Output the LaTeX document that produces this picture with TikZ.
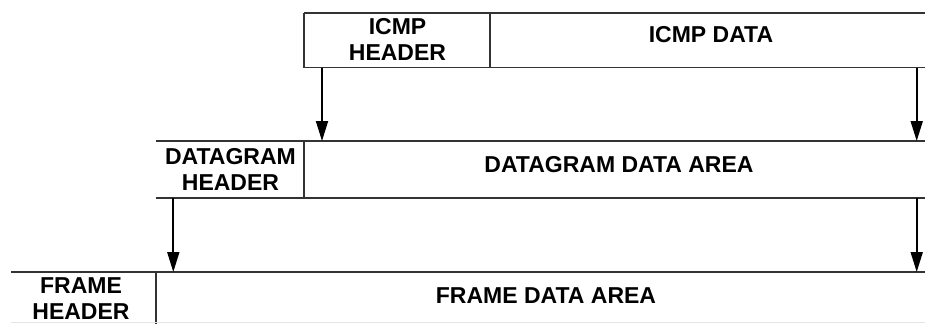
\documentclass[tikz,border=0pt]{standalone}
\usepackage{fontspec}
\setmainfont{Liberation Sans}
\usetikzlibrary{arrows.meta}
\begin{document}
\begin{tikzpicture}[x=1pt,y=-1pt,
  rule/.style={line width=1.8pt, draw=black!80},
  celltext/.style={font=\bfseries\fontsize{23}{26}\selectfont, align=center, inner sep=0pt},
  flow/.style={line width=1.8pt, draw=black, -{Triangle[length=20pt,width=12pt]}},
]
\useasboundingbox (0,0) rectangle (925,324);

% ICMP message row
\draw[rule] (304,12.7) -- (925,12.7);
\draw[rule] (304,67.5) -- (925,67.5);
\draw[rule] (304,12.7) -- (304,67.5);
\draw[rule] (490,12.7) -- (490,67.5);
\node[celltext] (icmphdr) at (397.5,39.7) {ICMP\\HEADER};
\node[celltext] (icmpdata) at (711,35) {ICMP DATA};

% IP datagram row
\draw[rule] (156,141) -- (925,141);
\draw[rule] (156,198) -- (925,198);
\draw[rule] (304,141) -- (304,198);
\node[celltext] (dghdr) at (230.5,169.7) {DATAGRAM\\HEADER};
\node[celltext] (dgdata) at (619,165) {DATAGRAM DATA AREA};

% frame row
\draw[rule] (11,272) -- (925,272);
\draw[rule] (156,272) -- (156,324);
\draw[gray!20, line width=0.8pt] (11,322.8) -- (925,322.8);
\node[celltext] (frhdr) at (81,298.7) {FRAME\\HEADER};
\node[celltext] (frdata) at (546,295.3) {FRAME DATA AREA};

% encapsulation arrows
\coordinate (a1s) at (322,67.5);   \coordinate (a1e) at (322,141);
\coordinate (a2s) at (916.7,67.5); \coordinate (a2e) at (916.7,141);
\coordinate (b1s) at (173.3,198);  \coordinate (b1e) at (173.3,272);
\coordinate (b2s) at (916.7,198);  \coordinate (b2e) at (916.7,272);
\draw[flow] (a1s) -- (a1e);
\draw[flow] (a2s) -- (a2e);
\draw[flow] (b1s) -- (b1e);
\draw[flow] (b2s) -- (b2e);
\end{tikzpicture}
\end{document}
